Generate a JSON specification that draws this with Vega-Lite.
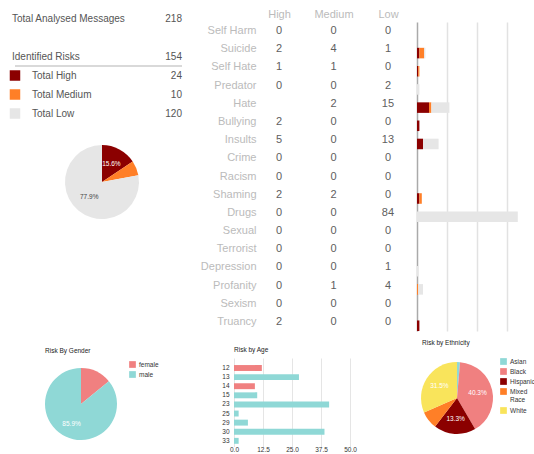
{
  "$schema": "https://vega.github.io/schema/vega-lite/v6.json",
  "padding": {"left": 0, "top": 8, "right": 0, "bottom": 0},
  "background": "white",
  "config": {"view": {"stroke": null}, "font": "Liberation Sans"},
  "datasets": {
    "levels": [
      {"level": "High", "rank": 1},
      {"level": "Medium", "rank": 2},
      {"level": "Low", "rank": 3}
    ],
    "summary": [
      {"row": "Total Analysed Messages", "kind": "header", "value": 218},
      {"row": "Identified Risks", "kind": "header", "value": 154},
      {"row": "Total High", "kind": "legend", "level": "High", "value": 24, "pct": "15.6%"},
      {"row": "Total Medium", "kind": "legend", "level": "Medium", "value": 10, "pct": ""},
      {"row": "Total Low", "kind": "legend", "level": "Low", "value": 120, "pct": "77.9%"}
    ],
    "risks": [
      {"cat": "Self Harm", "High": 0, "Medium": 0, "Low": 0},
      {"cat": "Suicide", "High": 2, "Medium": 4, "Low": 1},
      {"cat": "Self Hate", "High": 1, "Medium": 1, "Low": 0},
      {"cat": "Predator", "High": 0, "Medium": 0, "Low": 2},
      {"cat": "Hate", "High": 10, "Medium": 2, "Low": 15},
      {"cat": "Bullying", "High": 2, "Medium": 0, "Low": 0},
      {"cat": "Insults", "High": 5, "Medium": 0, "Low": 13},
      {"cat": "Crime", "High": 0, "Medium": 0, "Low": 0},
      {"cat": "Racism", "High": 0, "Medium": 0, "Low": 0},
      {"cat": "Shaming", "High": 2, "Medium": 2, "Low": 0},
      {"cat": "Drugs", "High": 0, "Medium": 0, "Low": 84},
      {"cat": "Sexual", "High": 0, "Medium": 0, "Low": 0},
      {"cat": "Terrorist", "High": 0, "Medium": 0, "Low": 0},
      {"cat": "Depression", "High": 0, "Medium": 0, "Low": 1},
      {"cat": "Profanity", "High": 0, "Medium": 1, "Low": 4},
      {"cat": "Sexism", "High": 0, "Medium": 0, "Low": 0},
      {"cat": "Truancy", "High": 2, "Medium": 0, "Low": 0}
    ],
    "age": [
      {"age": "12", "gender": "female", "value": 12},
      {"age": "13", "gender": "male", "value": 28},
      {"age": "14", "gender": "female", "value": 9},
      {"age": "15", "gender": "male", "value": 10},
      {"age": "23", "gender": "male", "value": 41},
      {"age": "25", "gender": "male", "value": 2},
      {"age": "29", "gender": "male", "value": 6},
      {"age": "30", "gender": "male", "value": 39},
      {"age": "33", "gender": "male", "value": 2}
    ],
    "gender": [
      {"gender": "female", "value": 21, "label": ""},
      {"gender": "male", "value": 128, "label": "85.9%"}
    ],
    "eth": [
      {"eth": "Asian", "value": 2, "label": ""},
      {"eth": "Black", "value": 60, "label": "40.3%"},
      {"eth": "Hispanic", "value": 28, "label": "13.3%"},
      {"eth": "Mixed Race", "value": 12, "label": ""},
      {"eth": "White", "value": 47, "label": "31.5%"}
    ]
  },
  "columns": 3,
  "align": "none",
  "bounds": "flush",
  "spacing": {"row": 27, "column": 12},
  "resolve": {"scale": {"color": "independent", "theta": "independent"}, "legend": {"color": "independent"}},
  "concat": [
    {
      "width": 204,
      "height": 309,
      "resolve": {"scale": {"x": "independent", "y": "independent"}},
      "layer": [
        {
          "data": {"name": "summary"},
          "encoding": {
            "y": {"field": "row", "type": "nominal", "scale": {"type": "band", "domain": ["Total Analysed Messages", "gap", "Identified Risks", "Total High", "Total Medium", "Total Low"], "range": [-13, 101], "paddingInner": 0, "paddingOuter": 0}, "axis": null}
          },
          "layer": [
            {
              "transform": [{"filter": "datum.row == 'Identified Risks'"}],
              "mark": {"type": "rule", "color": "#cccccc", "strokeWidth": 1.5},
              "encoding": {
                "y": {"field": "row", "type": "nominal", "bandPosition": 1, "scale": {"type": "band", "domain": ["Total Analysed Messages", "gap", "Identified Risks", "Total High", "Total Medium", "Total Low"], "range": [-13, 101], "paddingInner": 0, "paddingOuter": 0}, "axis": null},
                "x": {"datum": "sq", "type": "nominal", "scale": {"type": "point", "domain": ["sq", "value"], "padding": 0.1108, "align": 0.405}, "axis": null},
                "x2": {"datum": "value"}
              }
            },
            {
              "transform": [{"filter": "datum.kind == 'header'"}],
              "mark": {"type": "text", "align": "left", "baseline": "middle", "dx": -3, "fontSize": 10, "color": "#555555"},
              "encoding": {
                "x": {"datum": "sq", "type": "nominal", "scale": {"type": "point", "domain": ["sq", "value"], "padding": 0.1108, "align": 0.405}, "axis": null},
                "text": {"field": "row"}
              }
            },
            {
              "transform": [{"filter": "datum.kind == 'legend'"}],
              "mark": {"type": "text", "align": "left", "baseline": "middle", "dx": 17, "fontSize": 10, "color": "#555555"},
              "encoding": {
                "x": {"datum": "sq", "type": "nominal", "scale": {"type": "point", "domain": ["sq", "value"], "padding": 0.1108, "align": 0.405}, "axis": null},
                "text": {"field": "row"}
              }
            },
            {
              "mark": {"type": "text", "align": "right", "baseline": "middle", "fontSize": 10, "color": "#555555"},
              "encoding": {
                "x": {"datum": "value", "type": "nominal", "scale": {"type": "point", "domain": ["sq", "value"], "padding": 0.1108, "align": 0.405}, "axis": null},
                "text": {"field": "value", "type": "quantitative"}
              }
            },
            {
              "transform": [{"filter": "datum.kind == 'legend'"}],
              "mark": {"type": "square", "size": 110, "filled": true, "opacity": 1},
              "encoding": {
                "x": {"datum": "sq", "type": "nominal", "scale": {"type": "point", "domain": ["sq", "value"], "padding": 0.1108, "align": 0.405}, "axis": null},
                "color": {"field": "level", "type": "nominal", "scale": {"domain": ["High", "Medium", "Low"], "range": ["#8b0000", "#ff7f27", "#e6e6e6"]}, "legend": null}
              }
            }
          ]
        },
        {
          "data": {"name": "summary"},
          "transform": [
            {"filter": "datum.kind == 'legend'"},
            {"lookup": "level", "from": {"data": {"name": "levels"}, "key": "level", "fields": ["rank"]}}
          ],
          "encoding": {
            "y": {"datum": "pie", "type": "nominal", "scale": {"type": "point", "domain": ["pie"], "padding": 0, "align": 0.518}, "axis": null},
            "theta": {"field": "value", "type": "quantitative", "stack": true},
            "order": {"field": "rank", "type": "quantitative"}
          },
          "layer": [
            {
              "mark": {"type": "arc", "outerRadius": 37},
              "encoding": {
                "color": {"field": "level", "type": "nominal", "scale": {"domain": ["High", "Medium", "Low"], "range": ["#8b0000", "#ff7f27", "#e6e6e6"]}, "legend": null}
              }
            },
            {
              "mark": {"type": "text", "radius": 20, "fontSize": 6.5},
              "encoding": {
                "text": {"field": "pct"},
                "color": {"condition": {"test": "datum.level == 'High'", "value": "white"}, "value": "#444444"}
              }
            }
          ]
        }
      ]
    },
    {
      "width": 189,
      "height": 309,
      "data": {"name": "risks"},
      "transform": [
        {"fold": ["High", "Medium", "Low"], "as": ["level", "value"]},
        {"filter": "!(datum.cat == 'Hate' && datum.level == 'High')"}
      ],
      "mark": {"type": "text", "fontSize": 11, "color": "#606060", "baseline": "middle"},
      "encoding": {
        "x": {"field": "level", "type": "nominal", "scale": {"type": "point", "domain": ["High", "Medium", "Low"], "padding": 0.734, "align": 0.7875}, "axis": {"orient": "top", "title": null, "labelAngle": 0, "ticks": false, "tickSize": 0, "domain": false, "grid": false, "labelPadding": 3, "labelColor": "#bbbbbb", "labelFontSize": 11}},
        "y": {"field": "cat", "type": "nominal", "scale": {"type": "band", "domain": ["Self Harm", "Suicide", "Self Hate", "Predator", "Hate", "Bullying", "Insults", "Crime", "Racism", "Shaming", "Drugs", "Sexual", "Terrorist", "Depression", "Profanity", "Sexism", "Truancy"], "paddingInner": 0, "paddingOuter": 0}, "axis": {"title": null, "ticks": false, "tickSize": 0, "domain": false, "grid": false, "offset": -46, "labelPadding": 6, "labelColor": "#bbbbbb", "labelFontSize": 11}},
        "text": {"field": "value", "type": "quantitative"}
      }
    },
    {
      "width": 117,
      "height": 309,
      "data": {"name": "risks"},
      "transform": [
        {"fold": ["High", "Medium", "Low"], "as": ["level", "value"]},
        {"lookup": "level", "from": {"data": {"name": "levels"}, "key": "level", "fields": ["rank"]}}
      ],
      "mark": {"type": "bar"},
      "encoding": {
        "y": {"field": "cat", "type": "nominal", "scale": {"type": "band", "domain": ["Self Harm", "Suicide", "Self Hate", "Predator", "Hate", "Bullying", "Insults", "Crime", "Racism", "Shaming", "Drugs", "Sexual", "Terrorist", "Depression", "Profanity", "Sexism", "Truancy"], "paddingInner": 0.42, "paddingOuter": 0.21, "align": 1}, "axis": {"title": null, "labels": false, "ticks": false, "domain": true, "domainColor": "#aaaaaa", "domainWidth": 1.5, "grid": false}},
        "x": {"field": "value", "type": "quantitative", "stack": "zero", "scale": {"domain": [0, 97.5], "nice": false}, "axis": {"values": [25, 50, 75], "labels": false, "ticks": false, "domain": false, "title": null, "grid": true, "gridColor": "#e2e2e2", "gridWidth": 1.5}},
        "order": {"field": "rank", "type": "quantitative"},
        "color": {"field": "level", "type": "nominal", "scale": {"domain": ["High", "Medium", "Low"], "range": ["#8b0000", "#ff7f27", "#e6e6e6"]}, "legend": null}
      }
    },
    {
      "width": 162,
      "height": 92,
      "data": {"name": "gender"},
      "title": {"text": "Risk By Gender", "anchor": "start", "dx": 45, "fontSize": 6.5, "fontWeight": "normal", "color": "#222222", "offset": 3.5},
      "encoding": {
        "theta": {"field": "value", "type": "quantitative", "stack": true},
        "order": {"field": "gender"}
      },
      "layer": [
        {
          "mark": {"type": "arc", "outerRadius": 36},
          "encoding": {
            "color": {"field": "gender", "type": "nominal", "scale": {"domain": ["female", "male"], "range": ["#f08080", "#8fd8d6"]}, "legend": {"orient": "top-right", "offset": 3, "title": null, "symbolType": "square", "symbolSize": 45, "symbolStrokeWidth": 0, "labelFontSize": 6.5, "labelColor": "#333333", "rowPadding": 3, "padding": 0, "labelOffset": 3}}
          }
        },
        {"mark": {"type": "text", "radius": 22, "fontSize": 6.5, "color": "white"}, "encoding": {"text": {"field": "label"}}}
      ]
    },
    {
      "width": 134,
      "height": 88.5,
      "data": {"name": "age"},
      "title": {"text": "Risk by Age", "anchor": "start", "dx": 18, "fontSize": 6.5, "fontWeight": "normal", "color": "#222222", "offset": 4.5},
      "mark": {"type": "bar"},
      "encoding": {
        "y": {"field": "age", "type": "nominal", "scale": {"type": "band", "paddingInner": 0.35, "paddingOuter": 0.536, "align": 0.723}, "axis": {"title": null, "ticks": false, "domain": false, "grid": false, "offset": -18, "labelPadding": 5, "labelFontSize": 6.5, "labelColor": "#333333"}},
        "x": {"field": "value", "type": "quantitative", "scale": {"domain": [-7.759, 50], "nice": false, "zero": false}, "axis": {"values": [0, 12.5, 25, 37.5, 50], "format": ".1f", "title": null, "ticks": false, "domain": false, "grid": true, "gridColor": "#e5e5e5", "labelPadding": 0, "labelFlush": false, "labelFontSize": 6.5, "labelColor": "#333333"}},
        "color": {"field": "gender", "type": "nominal", "scale": {"domain": ["female", "male"], "range": ["#f08080", "#8fd8d6"]}, "legend": null}
      }
    },
    {
      "width": 75,
      "height": 80,
      "data": {"name": "eth"},
      "title": {"text": "Risk by Ethnicity", "anchor": "start", "dx": 5, "fontSize": 6.5, "fontWeight": "normal", "color": "#222222", "offset": 12},
      "encoding": {
        "x": {"datum": "pie", "type": "nominal", "scale": {"type": "point", "domain": ["pie"], "padding": 0, "align": 0.5333}, "axis": null},
        "theta": {"field": "value", "type": "quantitative", "stack": true},
        "order": {"field": "eth"}
      },
      "layer": [
        {
          "mark": {"type": "arc", "outerRadius": 36},
          "encoding": {
            "color": {"field": "eth", "type": "nominal", "scale": {"domain": ["Asian", "Black", "Hispanic", "Mixed Race", "White"], "range": ["#8fd8d6", "#f08080", "#8b0000", "#ff7f27", "#f9e45b"]}, "legend": {"orient": "right", "offset": 8, "title": null, "symbolType": "square", "symbolSize": 45, "symbolStrokeWidth": 0, "labelFontSize": 6.5, "labelColor": "#333333", "rowPadding": 3, "padding": 0, "labelOffset": 3, "labelExpr": "datum.label == 'Mixed Race' ? ['Mixed', 'Race'] : datum.label"}}
          }
        },
        {"mark": {"type": "text", "radius": 21, "fontSize": 6.5, "color": "white"}, "encoding": {"text": {"field": "label"}}}
      ]
    }
  ]
}
